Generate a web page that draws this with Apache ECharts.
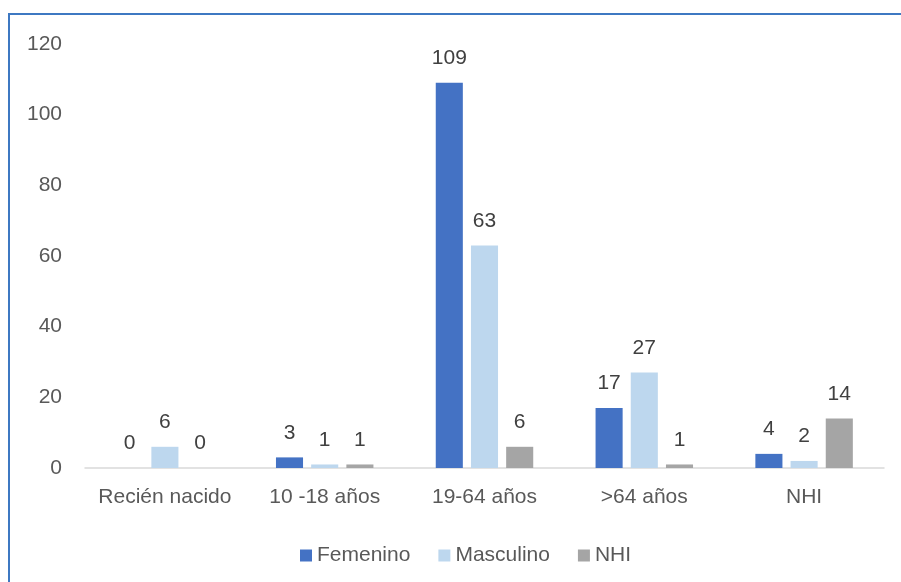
<!DOCTYPE html>
<html>
<head>
<meta charset="utf-8">
<script src="https://cdn.jsdelivr.net/npm/echarts@6/dist/echarts.min.js"></script>
<style>
html,body{margin:0;padding:0;background:#fff;}
#frame{position:absolute;left:8px;top:13px;width:893px;height:569px;border-top:2px solid #3d78c2;border-left:2px solid #3d78c2;box-sizing:border-box;}
#chart{position:absolute;left:0;top:0;width:901px;height:582px;}
</style>
</head>
<body>
<div id="frame"></div>
<div id="chart"></div>
<script>
const categories = ['Recién nacido', '10 -18 años', '19-64 años', '>64 años', 'NHI'];
const femenino = [0, 3, 109, 17, 4];
const masculino = [6, 1, 63, 27, 2];
const nhi = [0, 1, 6, 1, 14];
const yTicks = [0, 20, 40, 60, 80, 100, 120];

const FONT = 'Liberation Sans';
const FS = 21;
const chart = echarts.init(document.getElementById('chart'), null, {renderer: 'canvas'});
const label = {show: true, position: 'top', distance: 14, color: '#404040', fontSize: FS, fontFamily: FONT};
chart.setOption({
  animation: false,
  textStyle: {fontFamily: FONT},
  grid: {left: 85, right: 17, top: 44, bottom: 114, containLabel: false},
  legend: {
    data: ['Femenino', 'Masculino', 'NHI'],
    left: 295, top: 540,
    itemWidth: 12, itemHeight: 12, itemGap: 28,
    icon: 'rect',
    textStyle: {color: '#595959', fontSize: FS, fontFamily: FONT}
  },
  xAxis: {
    type: 'category',
    data: categories,
    axisLine: {lineStyle: {color: '#d9d9d9', width: 1.5}},
    axisTick: {show: false},
    axisLabel: {color: '#595959', fontSize: FS, fontFamily: FONT, margin: 19, interval: 0}
  },
  yAxis: {
    type: 'value',
    min: yTicks[0], max: yTicks[yTicks.length - 1], interval: 20,
    axisLine: {show: false},
    axisTick: {show: false},
    splitLine: {show: false},
    axisLabel: {color: '#595959', fontSize: FS, fontFamily: FONT, margin: 23}
  },
  series: [
    {name: 'Femenino', type: 'bar', data: femenino, itemStyle: {color: '#4472c4'}, label: label, barGap: '30%', barCategoryGap: '39%'},
    {name: 'Masculino', type: 'bar', data: masculino, itemStyle: {color: '#bdd7ee'}, label: label},
    {name: 'NHI', type: 'bar', data: nhi, itemStyle: {color: '#a5a5a5'}, label: label}
  ]
});
</script>
</body>
</html>
